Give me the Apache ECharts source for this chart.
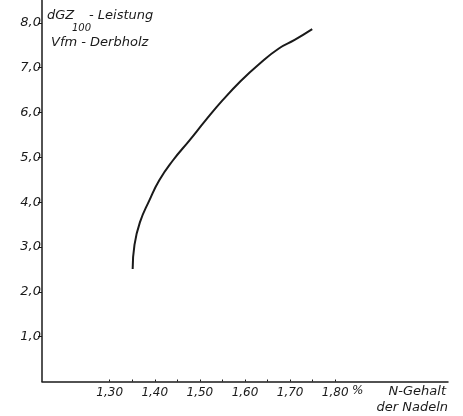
<!DOCTYPE html>
<html>
<head>
<meta charset="utf-8">
<script src="https://cdn.jsdelivr.net/npm/echarts@6/dist/echarts.min.js"></script>
<style>
html,body{margin:0;padding:0;background:#fff;}
#c{width:463px;height:416px;}
</style>
</head>
<body>
<div id="c"></div>
<script>
// Data
var nGehalt = [1.351, 1.355, 1.367, 1.388, 1.410, 1.440, 1.477, 1.513, 1.550, 1.590, 1.631, 1.675, 1.710, 1.749];
var leistung = [2.51, 3.05, 3.55, 4.04, 4.49, 4.93, 5.38, 5.83, 6.27, 6.70, 7.08, 7.43, 7.62, 7.86];
var xTickValues = [1.30, 1.35, 1.40, 1.45, 1.50, 1.55, 1.60, 1.65, 1.70, 1.75, 1.80];
var xLabelValues = [1.30, 1.40, 1.50, 1.60, 1.70, 1.80];
var yLabelValues = [1, 2, 3, 4, 5, 6, 7, 8];

var FONT = "'DejaVu Sans', sans-serif";
var INK = '#1a1a1a';

var chart = echarts.init(document.getElementById('c'), null, {renderer: 'canvas'});
var pts = nGehalt.map(function (x, i) { return [x, leistung[i]]; });

chart.setOption({
  animation: false,
  backgroundColor: '#fff',
  grid: {left: 42, right: 15, top: 0.5, bottom: 34.5, containLabel: false},
  xAxis: {
    type: 'value', min: 1.15, max: 2.05,
    splitLine: {show: false},
    axisLine: {lineStyle: {color: INK, width: 1.5}},
    axisTick: {show: true, inside: true, length: 2, lineStyle: {color: INK, width: 1}, customValues: xTickValues},
    axisLabel: {
      customValues: xLabelValues, margin: 5,
      fontFamily: FONT, fontStyle: 'italic', fontSize: 12, color: INK,
      formatter: function (v) { return v.toFixed(2).replace('.', ','); }
    }
  },
  yAxis: {
    type: 'value', min: 0, max: 8.5,
    splitLine: {show: false},
    axisLine: {lineStyle: {color: INK, width: 1.5}},
    axisTick: {show: true, length: 4, lineStyle: {color: INK, width: 1}, customValues: yLabelValues},
    axisLabel: {
      customValues: yLabelValues, margin: 1,
      fontFamily: FONT, fontStyle: 'italic', fontSize: 13, color: INK,
      formatter: function (v) { return v.toFixed(1).replace('.', ','); }
    }
  },
  series: [{
    type: 'line', data: pts, smooth: 0.5, symbol: 'none',
    lineStyle: {color: INK, width: 2}
  }],
  graphic: [
    {type: 'text', left: 47, top: 9, style: {text: 'dGZ', font: 'italic 13px ' + FONT, fill: INK}},
    {type: 'text', left: 72, top: 23, style: {text: '100', font: 'italic 10px ' + FONT, fill: INK}},
    {type: 'text', left: 89, top: 9, style: {text: '- Leistung', font: 'italic 13px ' + FONT, fill: INK}},
    {type: 'text', left: 51, top: 36, style: {text: 'Vfm - Derbholz', font: 'italic 13px ' + FONT, fill: INK}},
    {type: 'text', left: 352, top: 385, style: {text: '%', font: 'italic 12px ' + FONT, fill: INK}},
    {type: 'text', right: 17, top: 385, style: {text: 'N-Gehalt', font: 'italic 13px ' + FONT, fill: INK}},
    {type: 'text', right: 15, top: 401, style: {text: 'der Nadeln', font: 'italic 13px ' + FONT, fill: INK}}
  ]
});
</script>
</body>
</html>
